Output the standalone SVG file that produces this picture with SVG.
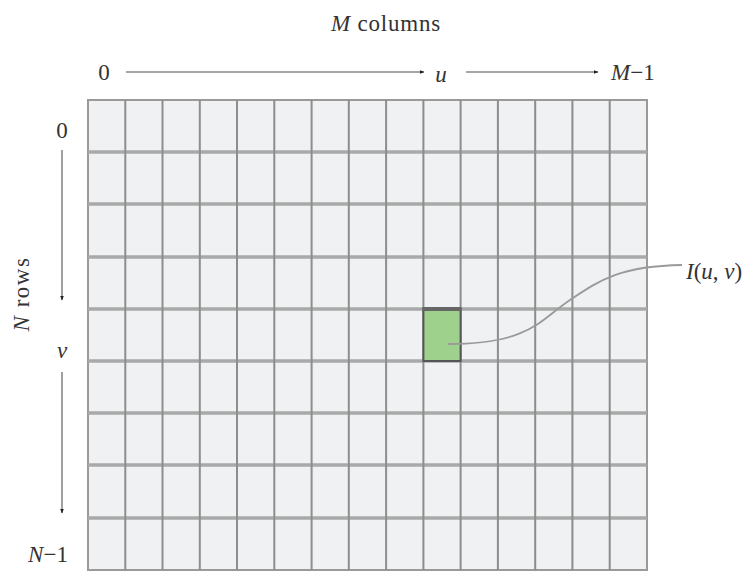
<svg xmlns="http://www.w3.org/2000/svg" width="752" height="572" viewBox="0 0 752 572">
<defs>
<style>
.t{font-family:"Liberation Serif","DejaVu Serif",serif;font-size:23px;fill:#333}
.i{font-style:italic}
.ax{stroke:#888;stroke-width:1.6;fill:none}
.hl{stroke:#a9a9a9;stroke-width:3.5}
.vl{stroke:#8d8d8d;stroke-width:2}
</style>
<marker id="ah" viewBox="0 0 10 10" refX="9" refY="5" markerWidth="5" markerHeight="5" orient="auto" markerUnits="userSpaceOnUse">
<path d="M0,1 L10,5 L0,9 Z" fill="#222"/>
</marker>
</defs>
<rect width="752" height="572" fill="#fff"/>
<g id="grid">
<rect x="88" y="100" width="559" height="470" fill="#f0f1f3" stroke="#9a9a9a" stroke-width="2"/>
<g class="hl">
<line x1="88" y1="152" x2="647" y2="152"/>
<line x1="88" y1="204" x2="647" y2="204"/>
<line x1="88" y1="257" x2="647" y2="257"/>
<line x1="88" y1="309" x2="647" y2="309"/>
<line x1="88" y1="361" x2="647" y2="361"/>
<line x1="88" y1="413" x2="647" y2="413"/>
<line x1="88" y1="465" x2="647" y2="465"/>
<line x1="88" y1="518" x2="647" y2="518"/>
</g>
<g class="vl">
<line x1="125.3" y1="100" x2="125.3" y2="570"/>
<line x1="162.5" y1="100" x2="162.5" y2="570"/>
<line x1="199.8" y1="100" x2="199.8" y2="570"/>
<line x1="237" y1="100" x2="237" y2="570"/>
<line x1="274.3" y1="100" x2="274.3" y2="570"/>
<line x1="311.6" y1="100" x2="311.6" y2="570"/>
<line x1="348.8" y1="100" x2="348.8" y2="570"/>
<line x1="386.1" y1="100" x2="386.1" y2="570"/>
<line x1="423.4" y1="100" x2="423.4" y2="570"/>
<line x1="460.6" y1="100" x2="460.6" y2="570"/>
<line x1="497.9" y1="100" x2="497.9" y2="570"/>
<line x1="535.2" y1="100" x2="535.2" y2="570"/>
<line x1="572.4" y1="100" x2="572.4" y2="570"/>
<line x1="609.7" y1="100" x2="609.7" y2="570"/>
</g>
</g>
<g id="pixel">
<rect x="423.4" y="309" width="37.2" height="52" fill="#9dd18c" stroke="#555" stroke-width="2"/>
<line x1="422.4" y1="309" x2="461.6" y2="309" stroke="#666" stroke-width="4"/>
</g>
<g id="connectors">
<line class="ax" x1="126" y1="72" x2="424" y2="72" marker-end="url(#ah)"/>
<line class="ax" x1="466" y1="72" x2="598" y2="72" marker-end="url(#ah)"/>
<line class="ax" x1="62" y1="150" x2="62" y2="300" marker-end="url(#ah)"/>
<line class="ax" x1="62" y1="372" x2="62" y2="513" marker-end="url(#ah)"/>
<path d="M448,344 C530,344 540,320 570,300 C600,280 620,266 682,265" fill="none" stroke="#9a9a9a" stroke-width="1.8"/>
</g>
<g id="labels">
<text class="t" x="386" y="31" text-anchor="middle" letter-spacing="0.8"><tspan class="i">M</tspan> columns</text>
<text class="t" x="104" y="80" text-anchor="middle">0</text>
<text class="t i" x="441" y="82" text-anchor="middle">u</text>
<text class="t" x="611" y="80"><tspan class="i">M</tspan>−1</text>
<text class="t" x="62" y="138" text-anchor="middle">0</text>
<text class="t i" x="62" y="358" text-anchor="middle">v</text>
<text class="t" x="48" y="562" text-anchor="middle"><tspan class="i">N</tspan>−1</text>
<text class="t" transform="translate(29,294) rotate(-90)" text-anchor="middle" letter-spacing="1.5"><tspan class="i">N</tspan> rows</text>
<text class="t" x="686" y="279"><tspan class="i">I</tspan>(<tspan class="i">u</tspan>, <tspan class="i">v</tspan>)</text>
</g>
</svg>
